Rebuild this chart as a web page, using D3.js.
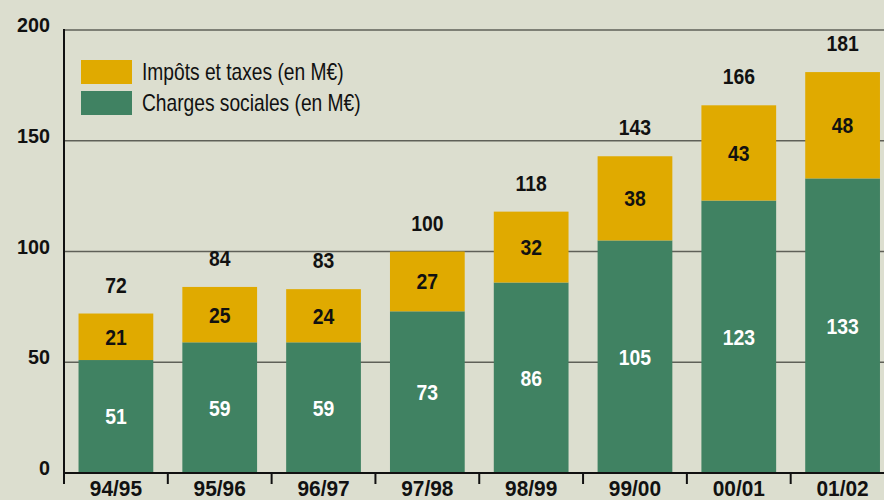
<!DOCTYPE html>
<html>
<head>
<meta charset="utf-8">
<script src="https://cdn.jsdelivr.net/npm/d3@7"></script>
<style>
  html, body { margin: 0; padding: 0; background: #dcdecf; }
  svg { display: block; }
  text { font-family: "Liberation Sans", Arial, sans-serif; }
</style>
</head>
<body>
<svg id="chart"></svg>
<script>
// Charges sociales + impôts et taxes, par exercice

const years = ["94/95", "95/96", "96/97", "97/98", "98/99", "99/00", "00/01", "01/02"];
const charges = [51, 59, 59, 73, 86, 105, 123, 133];
const impots = [21, 25, 24, 27, 32, 38, 43, 48];
const totals = [72, 84, 83, 100, 118, 143, 166, 181];
const yTicks = [0, 50, 100, 150, 200];
const legendLabels = ["Impôts et taxes (en M€)", "Charges sociales (en M€)"];

(function () {
  const W = 884, H = 500;
  const GOLD = "#e0aa00";
  const GREEN = "#408262";
  const INK = "#111";

  const svg = d3.select("#chart").attr("width", W).attr("height", H);

  // condensed look: squeeze the text horizontally
  const squeeze = (sel, sx, fx, fy) =>
    sel.attr("transform", (d, i) => `translate(${fx(d, i)},${fy(d, i)}) scale(${sx},1)`);

  const x = d3.scaleBand()
    .domain(years)
    .range([64, 894.5])
    .paddingInner(0.28)
    .paddingOuter(0.14);

  const y = d3.scaleLinear()
    .domain([0, 200])
    .range([473, 30]);

  // Gridlines
  svg.append("g")
    .selectAll("line")
    .data(yTicks.filter(d => d > 0))
    .join("line")
    .attr("x1", 64).attr("x2", W)
    .attr("y1", d => y(d)).attr("y2", d => y(d))
    .attr("stroke", "#5f6058").attr("stroke-width", 1.6);

  // Y tick labels
  svg.append("g")
    .selectAll("text")
    .data(yTicks)
    .join("text")
    .attr("text-anchor", "end")
    .attr("font-size", 21)
    .attr("font-weight", 700)
    .attr("fill", INK)
    .text(d => d)
    .call(squeeze, 0.94, () => 50, d => y(d) + 2);

  const rows = years.map((yr, i) => ({ yr, c: charges[i], t: impots[i], tot: totals[i] }));

  // Stacked bars
  const bars = svg.append("g");
  bars.selectAll("rect.c")
    .data(rows)
    .join("rect")
    .attr("class", "c")
    .attr("x", d => x(d.yr))
    .attr("width", x.bandwidth())
    .attr("y", d => y(d.c))
    .attr("height", d => y(0) - y(d.c))
    .attr("fill", GREEN);

  bars.selectAll("rect.t")
    .data(rows)
    .join("rect")
    .attr("class", "t")
    .attr("x", d => x(d.yr))
    .attr("width", x.bandwidth())
    .attr("y", d => y(d.c + d.t))
    .attr("height", d => y(d.c) - y(d.c + d.t))
    .attr("fill", GOLD);

  // Value labels
  const cx = d => x(d.yr) + x.bandwidth() / 2;
  const labels = svg.append("g")
    .attr("font-size", 22)
    .attr("font-weight", 700)
    .attr("text-anchor", "middle");

  labels.selectAll("text.c")
    .data(rows)
    .join("text")
    .attr("class", "c")
    .attr("dy", "0.36em")
    .attr("fill", "#fff")
    .text(d => d.c)
    .call(squeeze, 0.88, cx, d => (y(0) + y(d.c)) / 2);

  labels.selectAll("text.t")
    .data(rows)
    .join("text")
    .attr("class", "t")
    .attr("dy", "0.36em")
    .attr("fill", INK)
    .text(d => d.t)
    .call(squeeze, 0.88, cx, d => (y(d.c) + y(d.c + d.t)) / 2);

  labels.selectAll("text.tot")
    .data(rows)
    .join("text")
    .attr("class", "tot")
    .attr("fill", INK)
    .text(d => d.tot)
    .call(squeeze, 0.88, cx, d => y(d.tot) - 21);

  // Axis lines
  svg.append("line")
    .attr("x1", 64).attr("x2", 64)
    .attr("y1", 29).attr("y2", 474)
    .attr("stroke", INK).attr("stroke-width", 2);

  svg.append("line")
    .attr("x1", 64).attr("x2", W)
    .attr("y1", 473).attr("y2", 473)
    .attr("stroke", INK).attr("stroke-width", 2);

  // X ticks at band edges
  const gap = (x.step() - x.bandwidth()) / 2;
  svg.append("g")
    .selectAll("line")
    .data(years)
    .join("line")
    .attr("x1", d => x(d) - gap).attr("x2", d => x(d) - gap)
    .attr("y1", 473).attr("y2", 484)
    .attr("stroke", INK).attr("stroke-width", 2);

  svg.append("g")
    .selectAll("text")
    .data(years)
    .join("text")
    .attr("text-anchor", "middle")
    .attr("font-size", 22)
    .attr("font-weight", 700)
    .attr("fill", INK)
    .text(d => d)
    .call(squeeze, 0.95, d => x(d) + x.bandwidth() / 2, () => 496);

  // Legend
  const legend = svg.append("g").attr("transform", "translate(81,60)");
  const items = legend.selectAll("g")
    .data(legendLabels)
    .join("g")
    .attr("transform", (d, i) => `translate(0,${i * 31})`);
  items.append("rect")
    .attr("width", 51).attr("height", 24)
    .attr("fill", (d, i) => i === 0 ? GOLD : GREEN);
  items.append("text")
    .attr("dy", "0.35em")
    .attr("font-size", 24)
    .attr("fill", INK)
    .text(d => d)
    .call(squeeze, 0.8, () => 61, () => 12);
})();
</script>
</body>
</html>
